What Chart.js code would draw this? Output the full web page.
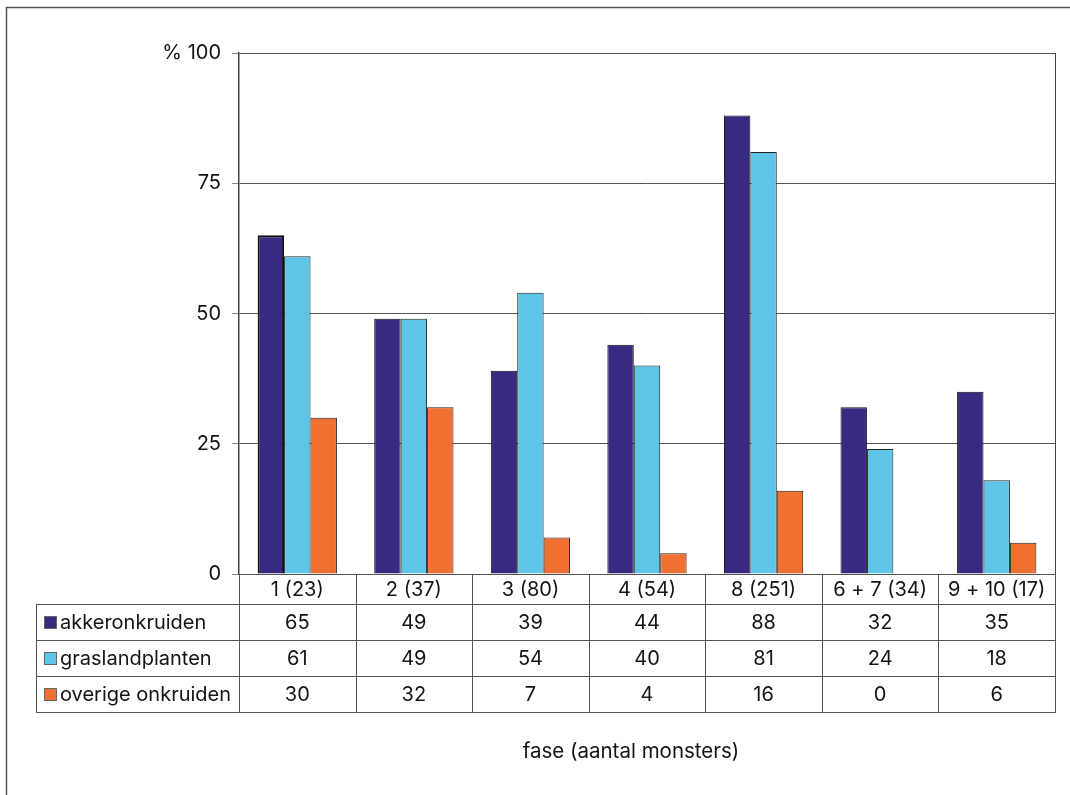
<!DOCTYPE html>
<html>
<head>
<meta charset="utf-8">
<title>fase (aantal monsters)</title>
<script src="https://cdn.jsdelivr.net/npm/chart.js@4"></script>
<style>
    html, body { margin: 0; padding: 0; background: #fff; }
    #wrap { width: 1070px; height: 795px; }
</style>
</head>
<body>
<div id="wrap"><canvas id="bar-chart" width="1070" height="795"></canvas></div>
<script>
// categorieen (fase met aantal monsters)
var FASES = ['1 (23)', '2 (37)', '3 (80)', '4 (54)', '8 (251)', '6 + 7 (34)', '9 + 10 (17)'];
// percentages per groep
var AKKERONKRUIDEN = [65, 49, 39, 44, 88, 32, 35];
var GRASLANDPLANTEN = [61, 49, 54, 40, 81, 24, 18];
var OVERIGE_ONKRUIDEN = [30, 32, 7, 4, 16, 0, 6];
// y-as
var Y_TICKS = [0, 25, 50, 75, 100];
var X_TITLE = 'fase (aantal monsters)';

var FONT = 'Inter, "Open Sans", sans-serif';
var TEXT = '#141414';

//tabel onder de grafiek + kader
var tablePlugin = {
    id: 'dataTable',
    beforeDraw: function(chart){
        var c = chart.ctx;
        c.save();
        c.fillStyle = '#fff';
        c.fillRect(0, 0, chart.width, chart.height);
        //kader
        c.strokeStyle = '#555';
        c.lineWidth = 1.5;
        c.beginPath();
        c.moveTo(6.5, chart.height);
        c.lineTo(6.5, 7.5);
        c.lineTo(chart.width, 7.5);
        c.stroke();
        c.restore();
    },
    afterDraw: function(chart){
        var c = chart.ctx;
        var area = chart.chartArea;
        var x = chart.scales.x;
        var sets = chart.data.datasets;
        var step = (area.right - area.left) / FASES.length;
        var headTop = area.bottom, headBot = headTop + 30, rowH = 36;
        var tableLeft = 36;
        var tableBot = headBot + rowH * sets.length;
        c.save();
        //rechterrand van de grafiek
        c.strokeStyle = '#444';
        c.lineWidth = 1;
        c.beginPath();
        c.moveTo(area.right + 0.5, area.top);
        c.lineTo(area.right + 0.5, area.bottom);
        c.stroke();

        //lijnen van de tabel
        c.strokeStyle = '#555';
        c.beginPath();
        c.moveTo(area.left, headTop + 0.5);
        c.lineTo(area.right, headTop + 0.5);
        for (var r = 0; r <= sets.length; r++) {
            var yy = Math.round(headBot + r * rowH) + 0.5;
            c.moveTo(tableLeft, yy);
            c.lineTo(area.right + 1, yy);
        }
        c.moveTo(tableLeft + 0.5, headBot);
        c.lineTo(tableLeft + 0.5, tableBot);
        for (var i = 0; i <= FASES.length; i++) {
            var xx = Math.round(area.left + i * step) + 0.5;
            c.moveTo(xx, headTop);
            c.lineTo(xx, tableBot + 0.5);
        }
        c.stroke();

        //koppen en waarden
        c.fillStyle = TEXT;
        c.font = '20px ' + FONT;
        c.textAlign = 'center';
        c.textBaseline = 'middle';
        FASES.forEach(function(f, i){
            var cx = x.getPixelForValue(i);
            c.fillText(f, cx, headTop + 16);
            sets.forEach(function(ds, r){
                c.fillText(String(ds.data[i]), cx, headBot + r * rowH + rowH / 2 + 1);
            });
        });

        //legenda in de eerste kolom
        c.textAlign = 'left';
        sets.forEach(function(ds, r){
            var cy = headBot + r * rowH + rowH / 2;
            c.fillStyle = ds.backgroundColor;
            c.fillRect(44, cy - 6, 13, 13);
            c.strokeStyle = '#666';
            c.lineWidth = 1;
            c.strokeRect(44.5, cy - 5.5, 12, 12);
            c.fillStyle = TEXT;
            c.fillText(ds.label, 60, cy + 1);
        });

        //titel x-as
        c.textAlign = 'center';
        c.font = '20.5px ' + FONT;
        c.fillText(X_TITLE, 631, 752);
        c.restore();
    }
};

init();
function init(){
    //staafdiagram met tabel
    showBarChart();
}

//staafdiagram
function showBarChart(){
    var ctx = document.getElementById('bar-chart');
    var barBorder = function(first){
        return function(context){
            if (context.raw === 0) return 0;
            return (first && context.dataIndex === 0) ? 2 : 1;
        };
    };
    var BarChart = new Chart(ctx, {
        type: 'bar',
        data: {
            labels: FASES,
            datasets: [{
                label: 'akkeronkruiden',
                data: AKKERONKRUIDEN,
                backgroundColor: '#372a80',
                borderColor: '#111',
                borderWidth: barBorder(true)
            }, {
                label: 'graslandplanten',
                data: GRASLANDPLANTEN,
                backgroundColor: '#5fc5e7',
                borderColor: '#222',
                borderWidth: barBorder(false)
            }, {
                label: 'overige onkruiden',
                data: OVERIGE_ONKRUIDEN,
                backgroundColor: '#ef7030',
                borderColor: '#222',
                borderWidth: barBorder(false)
            }]
        },
        options: {
            responsive: false,
            animation: false,
            events: [],
            layout: { padding: { top: 53, right: 15, bottom: 221, left: 0 } },
            categoryPercentage: 0.68,
            barPercentage: 1,
            plugins: {
                legend: { display: false },
                tooltip: { enabled: false }
            },
            scales: {
                x: {
                    display: false,
                    offset: true
                },
                y: {
                    min: 0,
                    max: 100,
                    afterFit: function(scale){ scale.width = 239; },
                    afterBuildTicks: function(scale){
                        scale.ticks = Y_TICKS.map(function(v){ return { value: v }; });
                    },
                    border: { color: '#444', width: 1.5 },
                    grid: {
                        color: '#555',
                        lineWidth: 1,
                        tickLength: 7,
                        tickColor: '#888'
                    },
                    ticks: {
                        padding: 11,
                        color: TEXT,
                        font: { family: FONT, size: 20 },
                        callback: function(v){ return v === 100 ? '% 100' : v; }
                    }
                }
            }
        },
        plugins: [tablePlugin]
    });
}
</script>
</body>
</html>
